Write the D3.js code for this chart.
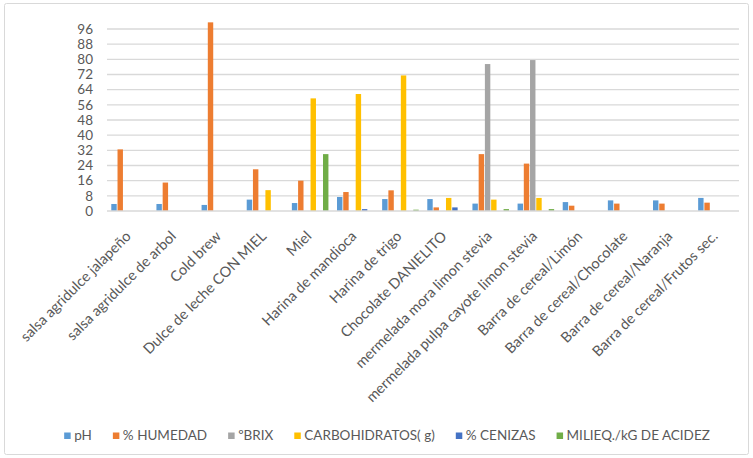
<!DOCTYPE html>
<html><head><meta charset="utf-8">
<script src="https://cdn.jsdelivr.net/npm/d3@7"></script>
<style>body{margin:0;background:#fff;} text{font-family:Lato,"Open Sans",sans-serif;fill:#595959;}</style>
</head><body><svg id="c" width="753" height="458"></svg>
<script>
const categories = ["salsa agridulce jalapeño","salsa agridulce de arbol","Cold brew","Dulce de leche CON MIEL","Miel","Harina de mandioca","Harina de trigo","Chocolate DANIELITO","mermelada mora limon stevia","mermelada pulpa cayote limon stevia","Barra de cereal/Limón","Barra de cereal/Chocolate","Barra de cereal/Naranja","Barra de cereal/Frutos sec."];
const seriesNames = ["pH","% HUMEDAD","ºBRIX","CARBOHIDRATOS( g)","% CENIZAS","MILIEQ./kG DE ACIDEZ"];
const seriesColors = ["#5B9BD5","#ED7D31","#A5A5A5","#FFC000","#4472C4","#70AD47"];
const pH        = [3.7,3.7,3.2,6.0,4.2,7.4,6.3,6.3,3.9,3.9,4.7,5.6,5.6,6.9];
const humedad   = [32.5,15,99.5,22,16,10,10.9,1.9,30,25,2.8,3.9,3.9,4.4];
const brix      = [0,0,0,0,0,0,0,0,77.5,79.6,0,0,0,0];
const carbo     = [0,0,0,11,59.4,61.7,71.5,6.9,6.0,6.9,0,0,0,0];
const cenizas   = [0,0,0,0,0,1.0,0,1.9,0,0,0,0,0,0];
const acidez    = [0,0,0,0,30,0,0.7,0,1.0,1.0,0,0,0,0];
const yTicks    = [0,8,16,24,32,40,48,56,64,72,80,88,96];
const yMax = 100;

(function(){
const seriesValues = [pH,humedad,brix,carbo,cenizas,acidez];
const svg = d3.select("#c");
svg.append("rect").attr("x",4.5).attr("y",3.5).attr("width",744).attr("height",451)
  .attr("fill","#fff").attr("stroke","#d9d9d9").attr("rx",2);

const pLeft=107, pRight=739, pTop=21.4, pBottom=211;
const x0 = d3.scaleBand().domain(categories).range([pLeft,pRight]).padding(0);
const bw = x0.bandwidth();
const x1 = d3.scaleBand().domain(seriesNames).range([bw*0.095, bw*0.905]).paddingInner(0.13);
const y = d3.scaleLinear().domain([0,yMax]).range([pBottom,pTop]);

svg.append("g").selectAll("line").data(yTicks.filter(d=>d>0)).join("line")
  .attr("x1",pLeft).attr("x2",pRight).attr("y1",d=>y(d)).attr("y2",d=>y(d))
  .attr("stroke","#d9d9d9").attr("stroke-width",1.3);

const yAxis = d3.axisLeft(y).tickValues(yTicks).tickSize(0).tickPadding(14);
const ya = svg.append("g").attr("transform",`translate(${pLeft},0)`).call(yAxis);
ya.select(".domain").remove();
ya.selectAll("text").style("font-size","13.5px").style("fill","#595959").style("font-family","Lato");

const g = svg.append("g");
seriesNames.forEach((s,si)=>{
  g.append("g").selectAll("rect").data(categories.map((c,i)=>({c,v:seriesValues[si][i]})).filter(d=>d.v>0))
   .join("rect")
   .attr("x",d=>x0(d.c)+x1(s)).attr("width",x1.bandwidth())
   .attr("y",d=>y(d.v)).attr("height",d=>pBottom-y(d.v))
   .attr("fill",seriesColors[si]);
});

svg.append("line").attr("x1",pLeft).attr("x2",pRight).attr("y1",pBottom).attr("y2",pBottom)
  .attr("stroke","#d9d9d9").attr("stroke-width",1.3);

svg.append("g").selectAll("text").data(categories).join("text")
  .attr("transform",d=>`translate(${x0(d)+bw/2-5},${pBottom+19}) rotate(-45)`)
  .attr("text-anchor","end").attr("dy","0.7em")
  .style("font-size","14.5px").text(d=>d);

const lg = svg.append("g");
let items = seriesNames.map((s,i)=>{
  const it = lg.append("g");
  it.append("rect").attr("width",6.5).attr("height",6.5).attr("y",-7.5).attr("fill",seriesColors[i]);
  const t = it.append("text").attr("x",10).attr("y",0).style("font-size","13.5px").text(s);
  return {it, w: 10 + t.node().getComputedTextLength()};
});
const gap = 21;
const total = d3.sum(items,d=>d.w) + gap*(items.length-1);
let cx = 387 - total/2;
items.forEach(d=>{ d.it.attr("transform",`translate(${cx},440)`); cx += d.w + gap; });
})();
</script></body></html>
